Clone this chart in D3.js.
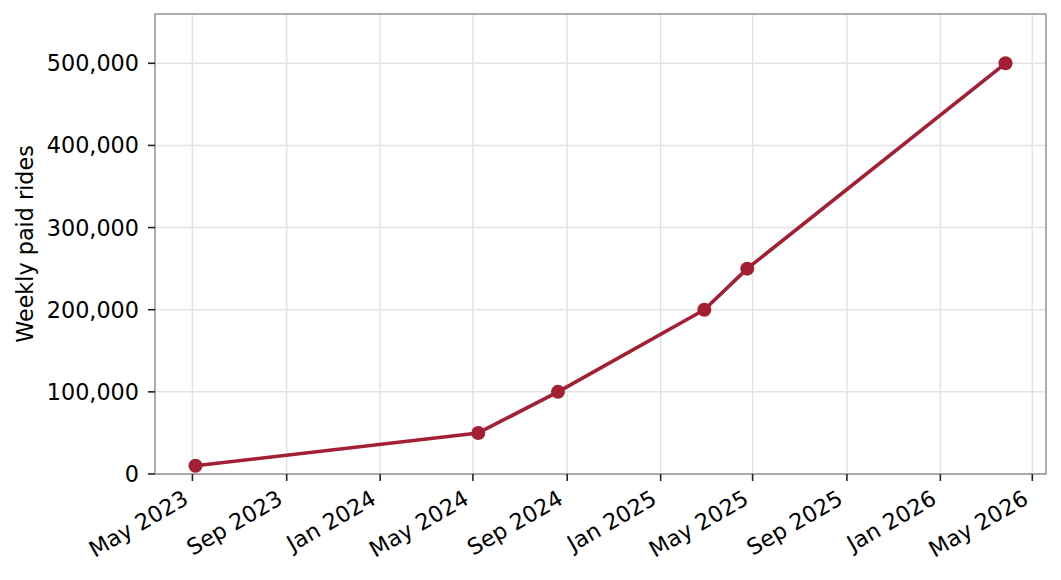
<!DOCTYPE html>
<html>
<head>
<meta charset="utf-8">
<script src="https://cdn.jsdelivr.net/npm/d3@7"></script>
<style>
  body { margin: 0; background: #fff; }
  text { font-family: "DejaVu Sans", sans-serif; fill: #000; }
</style>
</head>
<body>
<div id="chart"></div>
<script>
// weekly paid rides
const dates = ["2023-05-05", "2024-05-08", "2024-08-20", "2025-02-27", "2025-04-24", "2026-03-27"];
const rides = [10000, 50000, 100000, 200000, 250000, 500000];
const yTicks = [0, 100000, 200000, 300000, 400000, 500000];

const W = 1061, H = 580;
const plotL = 155, plotR = 1046, plotT = 14, plotB = 474;
const fontSize = 22.3;

const parse = d3.timeParse("%Y-%m-%d");
const points = dates.map((d, i) => ({ date: parse(d), value: rides[i] }));

var svg = d3.select("#chart").append("svg").attr("width", W).attr("height", H)

// x range padded 5% each side, like matplotlib's default margins
const ext = d3.extent(points, d => d.date);
const pad = (ext[1] - ext[0]) * 0.05;
const x = d3.scaleTime()
  .domain([new Date(+ext[0] - pad), new Date(+ext[1] + pad)])
  .range([plotL, plotR]);

const y = d3.scaleLinear().domain([0, 560000]).range([plotB, plotT]);

const xTicks = x.ticks(d3.timeMonth.every(4));
const fmtDate = d3.timeFormat("%b %Y");
const fmtNum = d3.format(",");

// grid
svg.append("g").selectAll("line").data(xTicks).join("line")
  .attr("x1", d => x(d)).attr("x2", d => x(d))
  .attr("y1", plotT).attr("y2", plotB)
  .attr("stroke", "#e3e3e3").attr("stroke-width", 1.5)

svg.append("g").selectAll("line").data(yTicks).join("line")
  .attr("x1", plotL).attr("x2", plotR)
  .attr("y1", d => y(d)).attr("y2", d => y(d))
  .attr("stroke", "#e3e3e3").attr("stroke-width", 1.5)

// frame
svg.append("rect")
  .attr("x", plotL).attr("y", plotT)
  .attr("width", plotR - plotL).attr("height", plotB - plotT)
  .attr("fill", "none").attr("stroke", "#999").attr("stroke-width", 1.6)

// x ticks and labels
const xt = svg.append("g").selectAll("g").data(xTicks).join("g")
xt.append("line")
  .attr("x1", d => x(d)).attr("x2", d => x(d))
  .attr("y1", plotB).attr("y2", plotB + 7)
  .attr("stroke", "#222").attr("stroke-width", 1.6)
xt.append("text")
  .attr("transform", d => `translate(${x(d) - 2.6}, 503) rotate(-30)`)
  .style("text-anchor", "end")
  .style("font-size", fontSize + "px")
  .text(d => fmtDate(d))

// y ticks and labels
const yt = svg.append("g").selectAll("g").data(yTicks).join("g")
yt.append("line")
  .attr("x1", plotL - 7).attr("x2", plotL)
  .attr("y1", d => y(d)).attr("y2", d => y(d))
  .attr("stroke", "#222").attr("stroke-width", 1.6)
yt.append("text")
  .attr("x", plotL - 16)
  .attr("y", d => y(d))
  .attr("dy", "0.36em")
  .style("text-anchor", "end")
  .style("font-size", fontSize + "px")
  .text(d => fmtNum(d))

svg.append("text")
  .attr("transform", `translate(33, ${(plotT + plotB) / 2}) rotate(-90)`)
  .style("text-anchor", "middle")
  .style("font-size", fontSize + "px")
  .text("Weekly paid rides")

// the series
const line = d3.line().x(d => x(d.date)).y(d => y(d.value));
svg.append("path")
  .datum(points)
  .attr("d", line)
  .attr("fill", "none")
  .attr("stroke", "#a31f34")
  .attr("stroke-width", 3.6)
  .attr("stroke-linejoin", "round")

svg.append("g").selectAll("circle").data(points).join("circle")
  .attr("cx", d => x(d.date))
  .attr("cy", d => y(d.value))
  .attr("r", 7)
  .attr("fill", "#a31f34")
</script>
</body>
</html>
